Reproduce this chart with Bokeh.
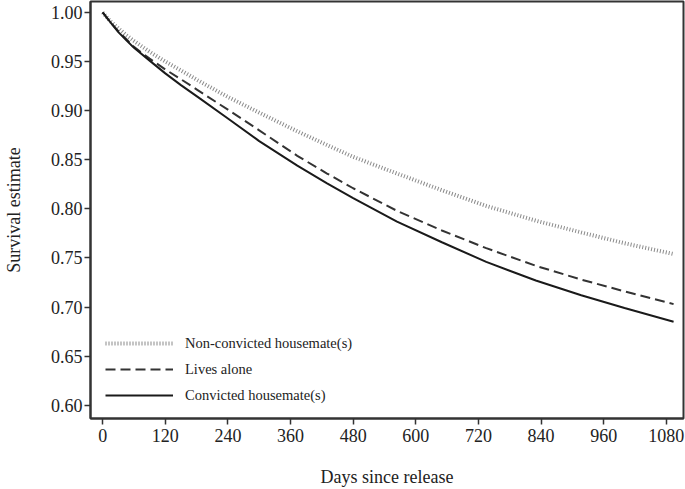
from bokeh.plotting import figure
from bokeh.models import FixedTicker, NumeralTickFormatter, Range1d
from bokeh.embed import file_html
from bokeh.resources import INLINE

days = [0, 15, 30, 45, 60, 90, 120, 150, 182, 240, 300, 373, 430, 480, 564, 650, 735, 830, 917, 1000, 1094]
non_convicted = [1.000, 0.991, 0.984, 0.977, 0.971, 0.960, 0.950, 0.941, 0.931, 0.914, 0.898, 0.879, 0.865,
                 0.853, 0.836, 0.819, 0.803, 0.788, 0.776, 0.765, 0.754]
lives_alone = [1.000, 0.990, 0.981, 0.973, 0.965, 0.953, 0.942, 0.932, 0.921, 0.901, 0.880, 0.854, 0.836,
               0.821, 0.798, 0.778, 0.760, 0.742, 0.728, 0.716, 0.703]
convicted = [1.000, 0.990, 0.980, 0.972, 0.964, 0.951, 0.938, 0.926, 0.914, 0.892, 0.869, 0.844, 0.826,
             0.811, 0.787, 0.766, 0.746, 0.727, 0.712, 0.699, 0.685]

x_ticks = [0, 120, 240, 360, 480, 600, 720, 840, 960, 1080]
y_ticks = [0.60, 0.65, 0.70, 0.75, 0.80, 0.85, 0.90, 0.95, 1.00]

FONT = "Liberation Serif"
TXT = "#222222"

p = figure(width=685, height=489, output_backend="svg", toolbar_location=None,
           x_range=Range1d(-23.3, 1113), y_range=Range1d(0.5865, 1.0112),
           min_border_left=87, min_border_right=2, min_border_top=1, min_border_bottom=70)

p.xgrid.visible = False
p.ygrid.visible = False
p.outline_line_color = "#333333"
p.outline_line_width = 2
p.background_fill_color = "white"
p.border_fill_color = "white"

p.line(days, non_convicted, line_color="#8a8a8a", line_width=4, line_dash="1 2",
       legend_label="Non-convicted housemate(s)")
p.line(days, lives_alone, line_color="#333333", line_width=2, line_dash="10 5",
       legend_label="Lives alone")
p.line(days, convicted, line_color="#1a1a1a", line_width=2,
       legend_label="Convicted housemate(s)")

for ax in (p.xaxis[0], p.yaxis[0]):
    ax.axis_line_color = "#333333"
    ax.axis_line_width = 2
    ax.major_tick_line_color = "#333333"
    ax.major_tick_line_width = 1.5
    ax.major_tick_in = 0
    ax.major_tick_out = 6
    ax.minor_tick_line_color = None
    ax.major_label_text_font = FONT
    ax.major_label_text_font_size = "18px"
    ax.major_label_text_color = TXT
    ax.axis_label_text_font = FONT
    ax.axis_label_text_font_size = "18px"
    ax.axis_label_text_font_style = "normal"
    ax.axis_label_text_color = TXT

p.xaxis.ticker = FixedTicker(ticks=x_ticks)
p.yaxis.ticker = FixedTicker(ticks=y_ticks)
p.yaxis.formatter = NumeralTickFormatter(format="0.00")
p.xaxis.axis_label = "Days since release"
p.yaxis.axis_label = "Survival estimate"
p.xaxis.major_label_standoff = 4
p.yaxis.major_label_standoff = 2
p.xaxis.axis_label_standoff = 22
p.yaxis.axis_label_standoff = 24

lg = p.legend[0]
lg.location = (15, 13)
lg.padding = 0
lg.margin = 0
lg.spacing = 6
lg.glyph_height = 20
lg.label_height = 20
lg.glyph_width = 68
lg.label_standoff = 12
lg.label_text_font = FONT
lg.label_text_font_size = "14.5px"
lg.label_text_color = TXT
lg.border_line_alpha = 0
lg.background_fill_alpha = 0

open("out.html", "w").write(file_html(p, INLINE))
